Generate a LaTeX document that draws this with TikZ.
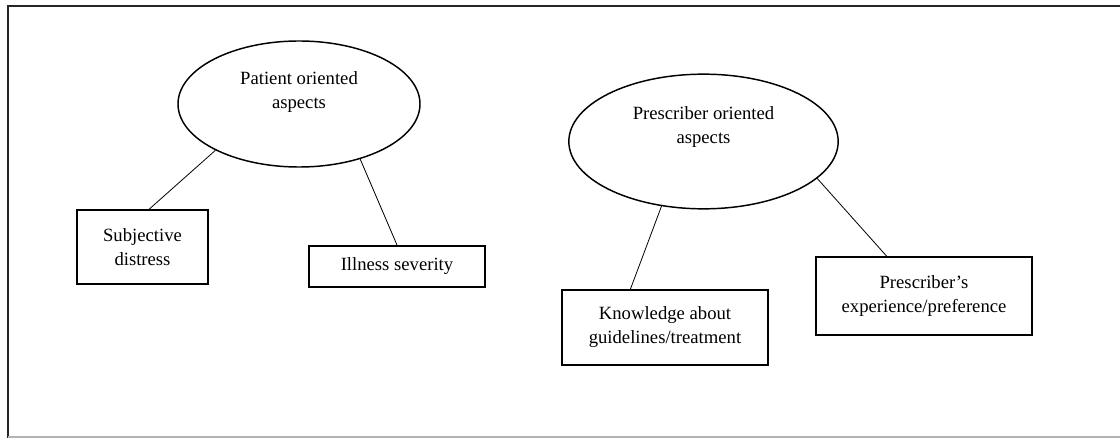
\documentclass[tikz,border=0pt]{standalone}
\usepackage{fontspec}
\setmainfont{Liberation Serif}
\usetikzlibrary{shapes.geometric}
\tikzset{
	aspect/.style={ellipse, draw, line width=1.1pt, inner sep=0pt},
	label text/.style={align=center, font=\fontsize{14}{18}\selectfont},
	factor/.style={rectangle, draw, line width=1.2pt, inner sep=0pt, align=center, font=\fontsize{14}{18}\selectfont},
	link/.style={line width=0.6pt}
}

\begin{document}
\begin{tikzpicture}[x=0.75pt,y=-0.75pt]
	
	\useasboundingbox (0,0) rectangle (1120,438);
	\draw[line width=1.5pt, black!85] (1120,6) -- (8,6) -- (8,438);
	\draw[line width=0.8pt, black!30] (8,437) -- (1120,437);
	
	% patient side
	\node[aspect, minimum width=181.5pt, minimum height=94.5pt] (pat) at (299,104) {};
	\node[label text] (pattext) at (299,92) {Patient oriented\\aspects};
	\node[factor, minimum width=98pt, minimum height=55.5pt] (sub) at (142.5,247) {Subjective\\distress};
	\node[factor, minimum width=132pt, minimum height=31pt] (ill) at (397,266.5) {Illness severity};
	
	% prescriber side
	\node[aspect, minimum width=202pt, minimum height=101pt] (pres) at (703.5,141.5) {};
	\node[label text] (prestext) at (703.5,127) {Prescriber oriented\\aspects};
	\node[factor, minimum width=154.5pt, minimum height=56pt] (know) at (665,327.5) {Knowledge about\\guidelines/treatment};
	\node[factor, minimum width=162pt, minimum height=58.5pt] (expe) at (924,296) {Prescriber's\\experience/preference};
	
	\draw[link] (pat.209) -- ([xshift=5pt]sub.north);
	\draw[link] (pat.318) -- (ill.north);
	\draw[link] (pres.237) -- ([xshift=-26pt]know.north);
	\draw[link] (pres.342) -- ([xshift=-28pt]expe.north);
	
\end{tikzpicture}
\end{document}
